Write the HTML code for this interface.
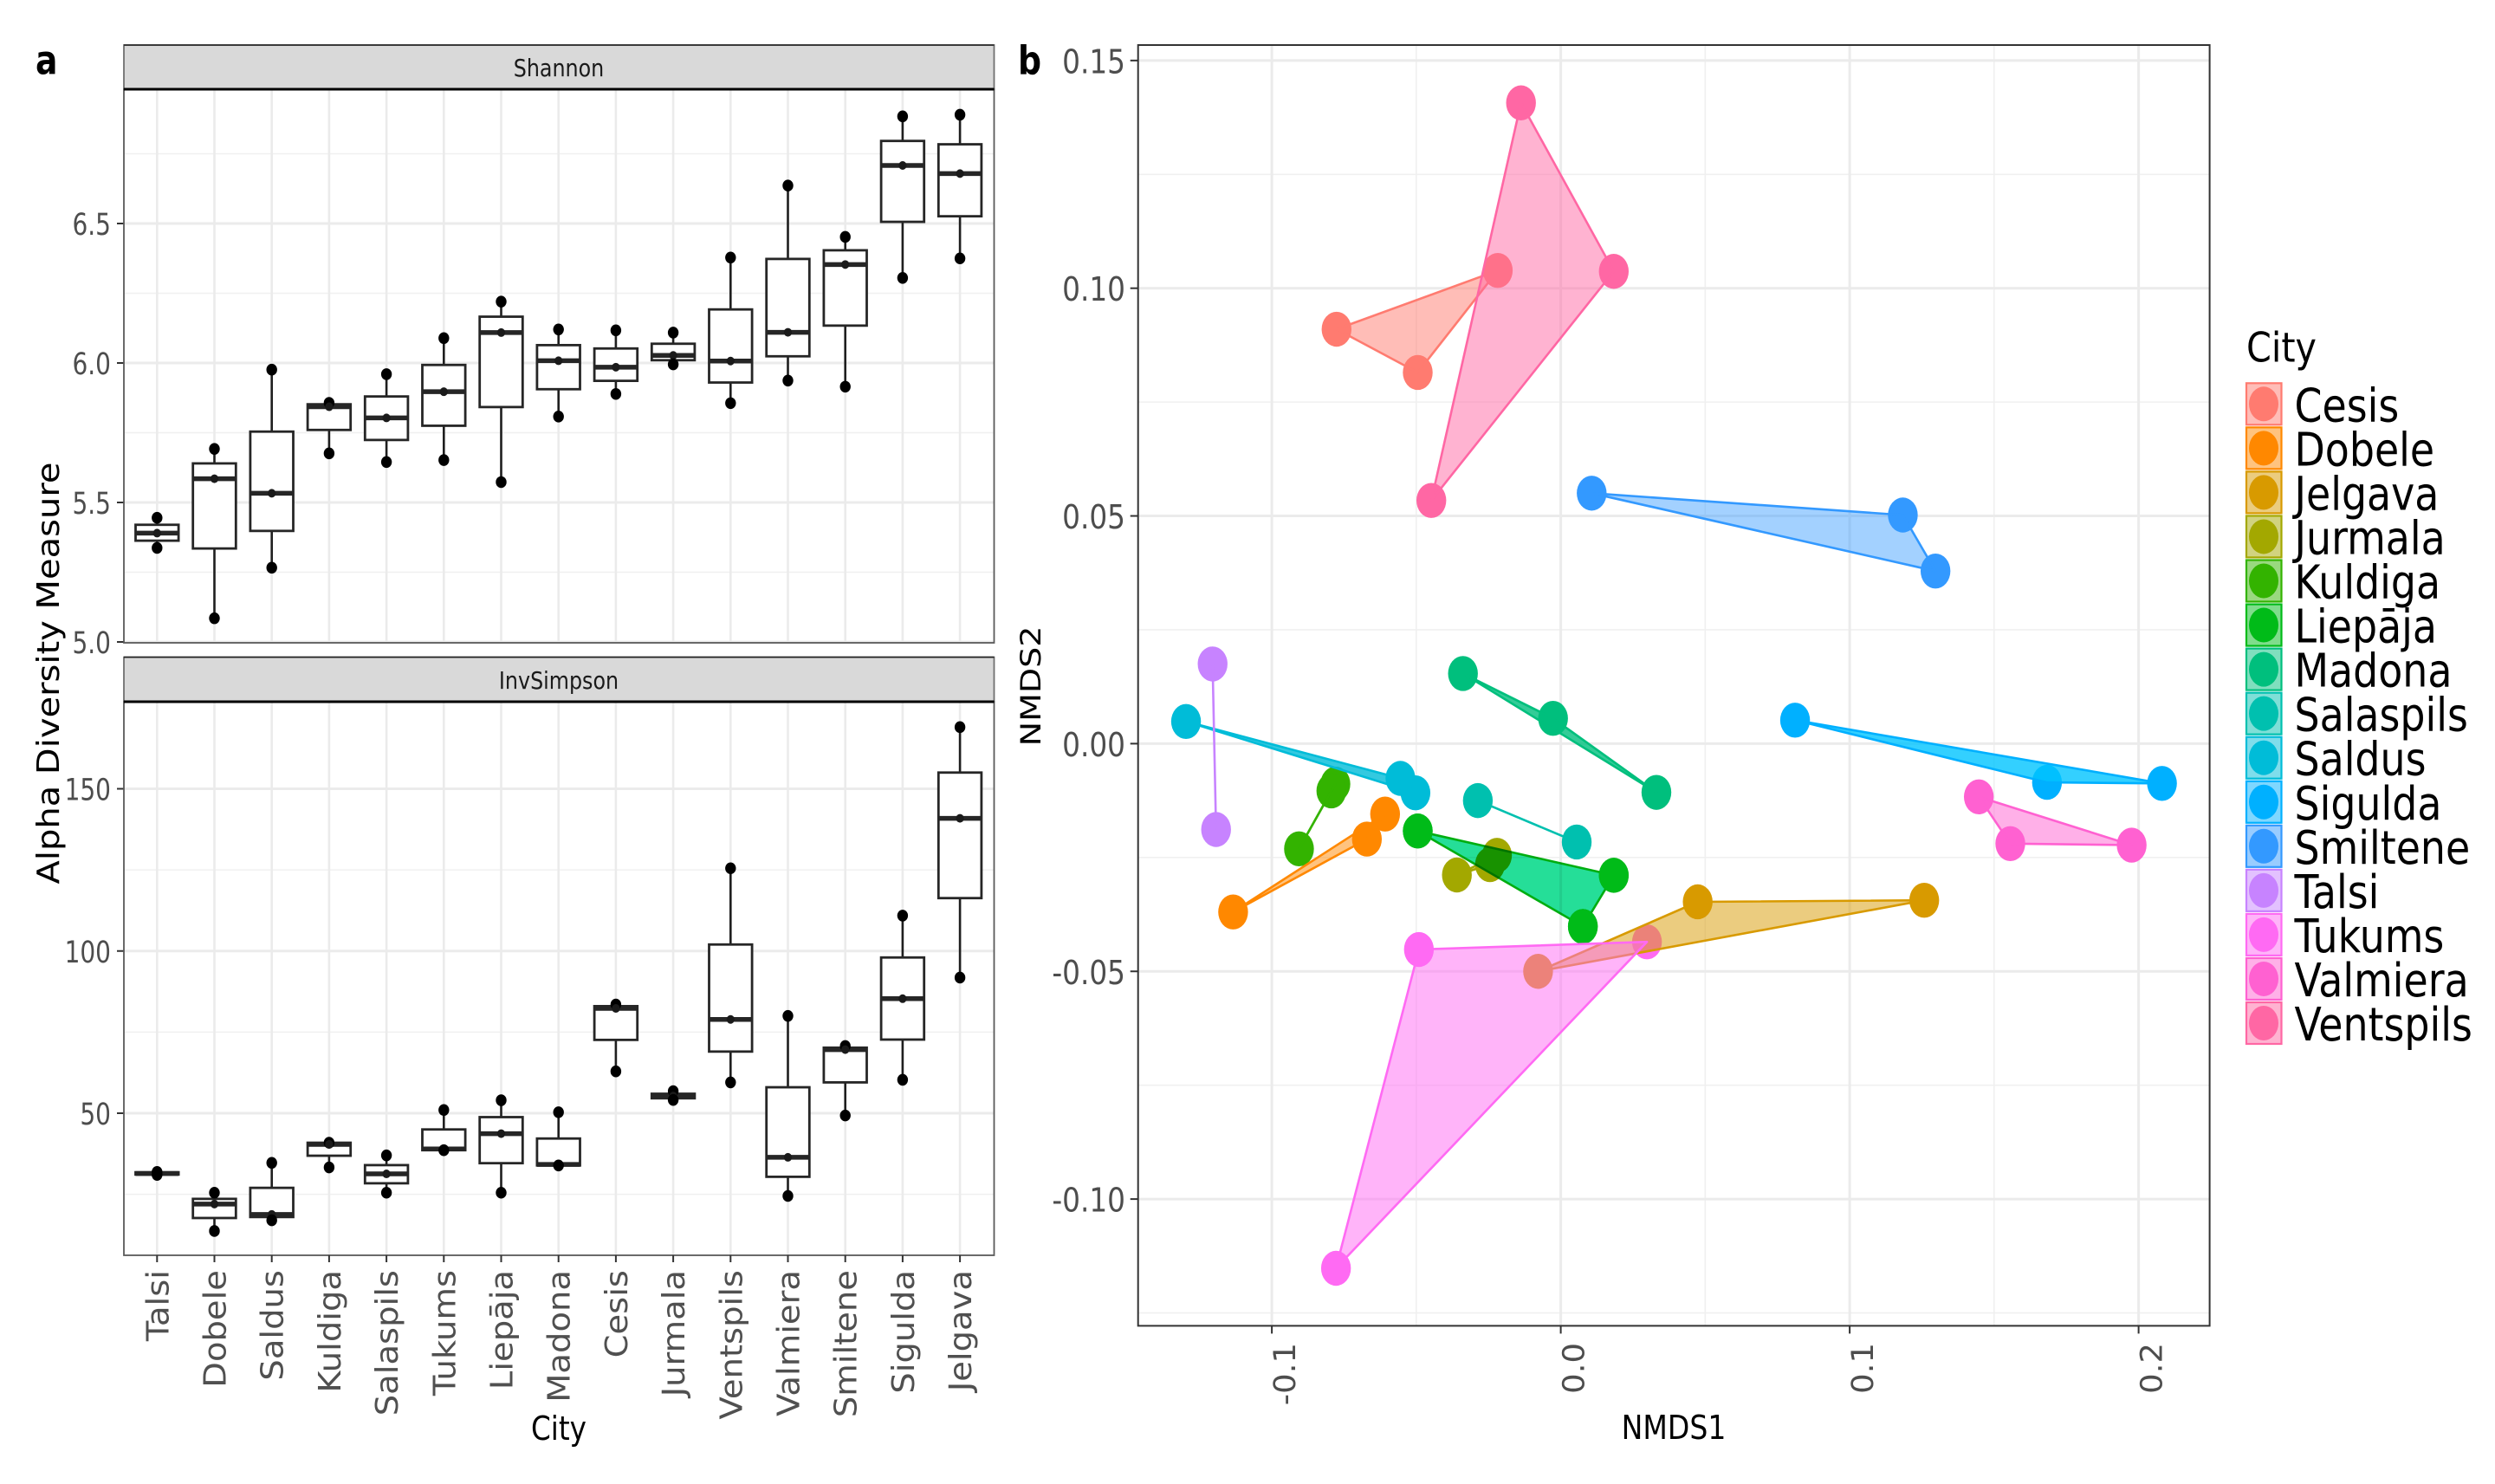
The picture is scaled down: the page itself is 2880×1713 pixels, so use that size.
<!DOCTYPE html>
<html lang="en">
<head>
<meta charset="utf-8">
<title>Alpha diversity and NMDS by city</title>
<style>
html,body{margin:0;padding:0;background:#fff;}
svg{display:block;font-family:"DejaVu Sans","Liberation Sans",sans-serif;}
</style>
</head>
<body>
<svg id="figure" xmlns="http://www.w3.org/2000/svg" width="2880" height="1713" viewBox="0 0 2880 1713">
<rect x="0" y="0" width="2880" height="1713" fill="#ffffff"/>
<g id="panelA"></g>
<g id="panelB"></g>
<g id="legend"></g>
<g id="labels">
<text transform="translate(41,85.5) scale(.82,1)" font-size="46" font-weight="700" fill="#000">a</text>
<text transform="translate(1175,85.5) scale(.84,1)" font-size="45" font-weight="700" fill="#000">b</text>
<text transform="translate(68,777) rotate(-90) scale(1,.9)" font-size="40" text-anchor="middle" fill="#000">Alpha Diversity Measure</text>
<text transform="translate(645,1662) scale(.86,1)" font-size="38" text-anchor="middle" fill="#000">City</text>
<text transform="translate(1932,1661) scale(.87,1)" font-size="38" text-anchor="middle" fill="#000">NMDS1</text>
<text transform="translate(1201,792) rotate(-90) scale(1,.85)" font-size="38" text-anchor="middle" fill="#000">NMDS2</text>
<text transform="translate(2593,417.5) scale(.88,1)" font-size="47" fill="#000">City</text>
</g>
</svg>
<script>
// ---- Panel a data ----
const cities = ["Talsi","Dobele","Saldus","Kuldiga","Salaspils","Tukums","Liepāja","Madona","Cesis","Jurmala","Ventspils","Valmiera","Smiltene","Sigulda","Jelgava"];
const shannonLow  = [5.337,5.085,5.266,5.676,5.645,5.652,5.573,5.808,5.889,5.995,5.856,5.937,5.915,6.305,6.375];
const shannonQ1   = [5.363,5.335,5.398,5.760,5.724,5.775,5.842,5.906,5.936,6.010,5.930,6.024,6.134,6.506,6.526];
const shannonMed  = [5.390,5.585,5.533,5.843,5.803,5.897,6.109,6.008,5.985,6.027,6.007,6.110,6.353,6.708,6.679];
const shannonQ3   = [5.420,5.640,5.754,5.852,5.880,5.993,6.166,6.064,6.052,6.069,6.192,6.373,6.404,6.796,6.784];
const shannonHigh = [5.445,5.692,5.976,5.857,5.960,6.089,6.220,6.120,6.117,6.109,6.378,6.636,6.452,6.884,6.890];
const invLow  = [31.0,13.7,17.0,33.3,25.5,38.6,25.5,33.9,62.9,54.1,59.5,24.5,49.3,60.3,91.8];
const invQ1   = [31.1,17.7,18.0,36.9,28.4,38.6,34.6,33.9,72.6,54.6,69.0,30.4,59.5,72.7,116.3];
const invMed  = [31.4,22.0,18.8,40.4,31.3,39.0,43.7,34.2,82.3,55.3,78.9,36.4,69.6,85.3,140.9];
const invQ3   = [31.8,23.6,27.0,40.9,34.0,45.0,48.8,42.2,83.0,56.0,102.0,58.0,70.2,98.0,155.0];
const invHigh = [31.9,25.5,34.7,40.9,37.0,51.0,54.0,50.3,83.5,56.8,125.5,80.0,70.7,110.9,169.0];
const shannonMajorTicks = [5.0,5.5,6.0,6.5];
const shannonMinorTicks = [5.25,5.75,6.25,6.75];
const invMajorTicks = [50,100,150];
const invMinorTicks = [25,75,125];

// ---- Panel b data ----
const legendCities = ["Cesis","Dobele","Jelgava","Jurmala","Kuldiga","Liepāja","Madona","Salaspils","Saldus","Sigulda","Smiltene","Talsi","Tukums","Valmiera","Ventspils"];
const cesisNmds1 = [-0.0776,-0.0495,-0.0218];
const cesisNmds2 = [0.0910,0.0815,0.1039];
const dobeleNmds1 = [-0.0608,-0.0671,-0.1134];
const dobeleNmds2 = [-0.01546,-0.02096,-0.03696];
const jelgavaNmds1 = [0.0474,0.1258,-0.00785];
const jelgavaNmds2 = [-0.03473,-0.03439,-0.0500];
const jurmalaNmds1 = [-0.03595,-0.02207,-0.0245];
const jurmalaNmds2 = [-0.02884,-0.02452,-0.02656];
const kuldigaNmds1 = [-0.0780,-0.0794,-0.0906];
const kuldigaNmds2 = [-0.00887,-0.01037,-0.0231];
const liepajaNmds1 = [-0.0495,0.01835,0.00765];
const liepajaNmds2 = [-0.01918,-0.02891,-0.04014];
const madonaNmds1 = [-0.03385,-0.00267,0.0331];
const madonaNmds2 = [0.0154,0.00555,-0.0107];
const salaspilsNmds1 = [-0.0287,0.00552];
const salaspilsNmds2 = [-0.0125,-0.0216];
const saldusNmds1 = [-0.1297,-0.0555,-0.0503];
const saldusNmds2 = [0.00487,-0.00763,-0.0108];
const siguldaNmds1 = [0.0811,0.1683,0.2081];
const siguldaNmds2 = [0.00515,-0.0085,-0.00873];
const smilteneNmds1 = [0.0107,0.1184,0.1297];
const smilteneNmds2 = [0.0550,0.0502,0.0379];
const talsiNmds1 = [-0.1205,-0.1193];
const talsiNmds2 = [0.0175,-0.01885];
const tukumsNmds1 = [-0.0491,0.02984,-0.0778];
const tukumsNmds2 = [-0.0452,-0.04352,-0.1152];
const valmieraNmds1 = [0.1447,0.1556,0.1976];
const valmieraNmds2 = [-0.01168,-0.02195,-0.02228];
const ventspilsNmds1 = [-0.01376,0.01835,-0.0448];
const ventspilsNmds2 = [0.1407,0.1037,0.0534];
const nmds1Series = [cesisNmds1,dobeleNmds1,jelgavaNmds1,jurmalaNmds1,kuldigaNmds1,liepajaNmds1,madonaNmds1,salaspilsNmds1,saldusNmds1,siguldaNmds1,smilteneNmds1,talsiNmds1,tukumsNmds1,valmieraNmds1,ventspilsNmds1];
const nmds2Series = [cesisNmds2,dobeleNmds2,jelgavaNmds2,jurmalaNmds2,kuldigaNmds2,liepajaNmds2,madonaNmds2,salaspilsNmds2,saldusNmds2,siguldaNmds2,smilteneNmds2,talsiNmds2,tukumsNmds2,valmieraNmds2,ventspilsNmds2];
const nmds1MajorTicks = [-0.1,0,0.1,0.2];
const nmds1TickLabels = ["-0.1","0.0","0.1","0.2"];
const nmds1MinorTicks = [-0.05,0.05,0.15];
const nmds2MajorTicks = [-0.10,-0.05,0,0.05,0.10,0.15];
const nmds2TickLabels = ["-0.10","-0.05","0.00","0.05","0.10","0.15"];
const nmds2MinorTicks = [-0.125,-0.075,-0.025,0.025,0.075,0.125];

// ---- Styles ----
const cityColors = ["#FF7B70","#FF8800","#D89A00","#A3A800","#33B300","#00BB18","#00BF7D","#00C0AF","#00BCD8","#00B0FF","#3399FF","#C783FF","#FF6AF3","#FF61D1","#FF67A4"];
const hullFills = ["#FF7B70","#FF8800","#D89A00","#A3A800","#33B300","#25DE98","#00BF7D","#00C0AF","#00BCD8","#00C4FF","#3399FF","#C783FF","#FF6AF3","#FF61D1","#FF67A4"];
const hullOpacity = [.5,.5,.5,.5,.5,1,.8,.8,.8,.8,.45,.5,.5,.5,.5];

const SVGNS = "http://www.w3.org/2000/svg";
function mk(tag, attrs, parent){
  const node = document.createElementNS(SVGNS, tag);
  for (const k in attrs) node.setAttribute(k, attrs[k]);
  parent.appendChild(node);
  return node;
}
function slug(s){ return s.toLowerCase().replace("ā","a").replace(/[^a-z0-9]+/g,"-"); }

// ---- Axis functions ----
const aLeft=143, aRight=1147.5;
const xCat = i => 181.3 + i*66.2;
const yShannon = v => 741 - (v-5)*322;
const yInv = v => 1285 - (v-50)*3.745;
const bLeft=1313.7, bRight=2550.6, bTop=52, bBottom=1530.4;
const xB = v => 1801.6 + v*3335;
const yB = v => 858.4 - v*5257;

const panelA = document.getElementById("panelA");
const panelB = document.getElementById("panelB");
const legend = document.getElementById("legend");

function drawFacet(cfg){
  const g = mk("g",{},panelA);
  
  
  const strip = mk("rect",{x:aLeft,y:cfg.stripTop,width:aRight-aLeft,height:cfg.top-cfg.stripTop,fill:"#d9d9d9",stroke:"#707070",'stroke-width':1.8},g);
  
  
  const stripTopRule = mk("line",{x1:aLeft,x2:aRight,y1:cfg.stripTop,y2:cfg.stripTop,stroke:"#222",'stroke-width':1.6},g);
  
  
  const stripText = mk("text",{transform:"translate(645,"+cfg.stripBase+") scale(.85,1)",'font-size':28,'text-anchor':'middle',fill:"#1a1a1a"},g);
  stripText.textContent = cfg.title;
  
  
  const bg = mk("rect",{x:aLeft,y:cfg.top,width:aRight-aLeft,height:cfg.bottom-cfg.top,fill:"#fff"},g);
  
  
  cfg.minor.forEach(v=>{
    const line = mk("line",{x1:aLeft,x2:aRight,y1:cfg.y(v),y2:cfg.y(v),stroke:"#f0f0f0",'stroke-width':1.6},g);
    
    
  });
  cfg.major.forEach(v=>{
    const line = mk("line",{x1:aLeft,x2:aRight,y1:cfg.y(v),y2:cfg.y(v),stroke:"#ebebeb",'stroke-width':3},g);
    
    
    const tick = mk("line",{x1:aLeft-8,x2:aLeft,y1:cfg.y(v),y2:cfg.y(v),stroke:"#333",'stroke-width':2},g);
    
    
    const lab = mk("text",{transform:"translate(128,"+(cfg.y(v)+13)+") scale(.8,1)",'font-size':35,'text-anchor':'end',fill:"#4d4d4d"},g);
    lab.textContent = cfg.fmt(v);
    
    
  });
  cities.forEach((c,i)=>{
    const line = mk("line",{x1:xCat(i),x2:xCat(i),y1:cfg.top,y2:cfg.bottom,stroke:"#ebebeb",'stroke-width':2.6},g);
    
    
  });
  cities.forEach((c,i)=>{
    const x = xCat(i), hw = 24.8;
    const box = mk("g",{},g);
    
    
    const whisk1 = mk("line",{x1:x,x2:x,y1:cfg.y(cfg.high[i]),y2:cfg.y(cfg.q3[i]),stroke:"#1f1f1f",'stroke-width':2.6},box);
    
    
    const whisk2 = mk("line",{x1:x,x2:x,y1:cfg.y(cfg.q1[i]),y2:cfg.y(cfg.low[i]),stroke:"#1f1f1f",'stroke-width':2.6},box);
    
    
    const rect = mk("rect",{x:x-hw,width:2*hw,y:cfg.y(cfg.q3[i]),height:Math.max(0,cfg.y(cfg.q1[i])-cfg.y(cfg.q3[i])),fill:"#fff",stroke:"#262626",'stroke-width':2.8},box);
    
    
    const med = mk("line",{x1:x-hw,x2:x+hw,y1:cfg.y(cfg.med[i]),y2:cfg.y(cfg.med[i]),stroke:"#262626",'stroke-width':5.5},box);
    
    
    const dotTop = mk("ellipse",{cx:x,cy:cfg.y(cfg.high[i]),rx:6.2,ry:6.8,fill:"#000"},box);
    
    
    const dotMed = mk("ellipse",{cx:x,cy:cfg.y(cfg.med[i]),rx:4.6,ry:5,fill:"#1a1a1a"},box);
    
    
    const dotLow = mk("ellipse",{cx:x,cy:cfg.y(cfg.low[i]),rx:6.2,ry:6.8,fill:"#000"},box);
    
    
  });
  const border = mk("rect",{x:aLeft,y:cfg.top,width:aRight-aLeft,height:cfg.bottom-cfg.top,fill:"none",stroke:"#5a5a5a",'stroke-width':1.8},g);
  
  
  const stripLine = mk("line",{x1:aLeft,x2:aRight,y1:cfg.top,y2:cfg.top,stroke:"#000",'stroke-width':3},g);
  
  
}

drawFacet({name:"shannon",title:"Shannon",stripTop:52,top:103,bottom:742,stripBase:88,y:yShannon,major:shannonMajorTicks,minor:shannonMinorTicks,fmt:v=>v.toFixed(1),low:shannonLow,q1:shannonQ1,med:shannonMed,q3:shannonQ3,high:shannonHigh});
drawFacet({name:"invsimpson",title:"InvSimpson",stripTop:758.6,top:810,bottom:1449,stripBase:795,y:yInv,major:invMajorTicks,minor:invMinorTicks,fmt:v=>String(v),low:invLow,q1:invQ1,med:invMed,q3:invQ3,high:invHigh});

cities.forEach((c,i)=>{
  const x = xCat(i);
  const tick = mk("line",{x1:x,x2:x,y1:1449,y2:1457,stroke:"#333",'stroke-width':2},panelA);
  
  
  const lab = mk("text",{transform:"translate("+(x+13)+",1466) rotate(-90) scale(1,.92)",'font-size':38.5,'text-anchor':'end',fill:"#505050"},panelA);
  lab.textContent = c;
  
  
});

// ---- Panel b ----
const bBg = mk("rect",{x:bLeft,y:bTop,width:bRight-bLeft,height:bBottom-bTop,fill:"#fff"},panelB);


nmds2MinorTicks.forEach(v=>{
  const line = mk("line",{x1:bLeft,x2:bRight,y1:yB(v),y2:yB(v),stroke:"#f0f0f0",'stroke-width':1.6},panelB);
  
  
});
nmds1MinorTicks.forEach(v=>{
  const line = mk("line",{x1:xB(v),x2:xB(v),y1:bTop,y2:bBottom,stroke:"#f0f0f0",'stroke-width':1.6},panelB);
  
  
});
nmds2MajorTicks.forEach((v,i)=>{
  const line = mk("line",{x1:bLeft,x2:bRight,y1:yB(v),y2:yB(v),stroke:"#ebebeb",'stroke-width':3},panelB);
  
  
  const tick = mk("line",{x1:bLeft-9,x2:bLeft,y1:yB(v),y2:yB(v),stroke:"#333",'stroke-width':2},panelB);
  
  
  const lab = mk("text",{transform:"translate(1299,"+(yB(v)+14.5)+") scale(.85,1)",'font-size':38.5,'text-anchor':'end',fill:"#4d4d4d"},panelB);
  lab.textContent = nmds2TickLabels[i];
  
  
});
nmds1MajorTicks.forEach((v,i)=>{
  const line = mk("line",{x1:xB(v),x2:xB(v),y1:bTop,y2:bBottom,stroke:"#ebebeb",'stroke-width':3},panelB);
  
  
  const tick = mk("line",{x1:xB(v),x2:xB(v),y1:bBottom,y2:bBottom+9,stroke:"#333",'stroke-width':2},panelB);
  
  
  const lab = mk("text",{transform:"translate("+(xB(v)+27)+",1550) rotate(-90) scale(1,.95)",'font-size':37,'text-anchor':'end',fill:"#4d4d4d"},panelB);
  lab.textContent = nmds1TickLabels[i];
  
  
});
// points first, then hulls over them (as in the reference)
legendCities.forEach((c,s)=>{
  nmds1Series[s].forEach((vx,j)=>{
    const pt = mk("ellipse",{cx:xB(vx),cy:yB(nmds2Series[s][j]),rx:17.2,ry:20.2,fill:cityColors[s]},panelB);
    
    
  });
});
legendCities.forEach((c,s)=>{
  const pts = nmds1Series[s].map((vx,j)=>xB(vx).toFixed(1)+","+yB(nmds2Series[s][j]).toFixed(1)).join(" ");
  const hull = mk("polygon",{points:pts,fill:hullFills[s],'fill-opacity':hullOpacity[s],stroke:cityColors[s],'stroke-width':2.6,'stroke-linejoin':'round'},panelB);
  
  
  if (c === "Liepāja") {
    // this hull darkens what lies beneath it, as in the reference
    hull.style.mixBlendMode = "multiply";
    hull.setAttribute('stroke', '#00AE10');
    nmds1Series[s].forEach((vx,j)=>{
      const top = mk("ellipse",{cx:xB(vx),cy:yB(nmds2Series[s][j]),rx:17.2,ry:20.2,fill:cityColors[s]},panelB);
      
      
    });
  }
});
const bBorder = mk("rect",{x:bLeft,y:bTop,width:bRight-bLeft,height:bBottom-bTop,fill:"none",stroke:"#333",'stroke-width':2},panelB);



// ---- Legend ----
legendCities.forEach((c,s)=>{
  const cy = 466.3 + s*51.05;
  const entry = mk("g",{},legend);
  
  
  const key = mk("rect",{x:2593,y:cy-24,width:40.5,height:48,fill:cityColors[s],'fill-opacity':.5,stroke:cityColors[s],'stroke-width':2.2},entry);
  
  
  const dot = mk("ellipse",{cx:2613,cy:cy,rx:17,ry:20,fill:cityColors[s]},entry);
  
  
  const lab = mk("text",{transform:"translate(2648.5,"+(cy+20)+") scale(.865,1)",'font-size':53,fill:"#000"},entry);
  lab.textContent = c;
  
  
});
</script>
</body>
</html>
